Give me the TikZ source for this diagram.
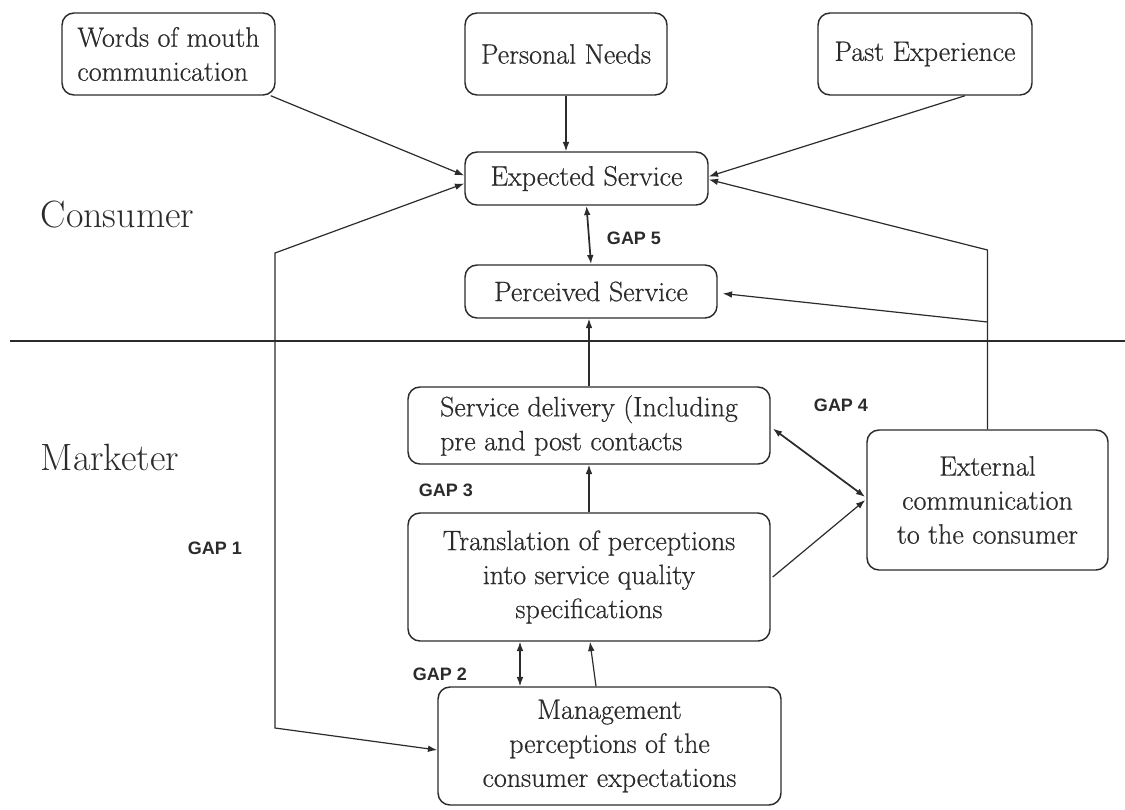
\documentclass[tikz,border=0pt]{standalone}
\usepackage{fontspec}
\newfontfamily\gapfont{Liberation Sans}
\newfontfamily\boxfont{Latin Modern Roman}[FakeBold=0.6]
\usetikzlibrary{arrows.meta,calc}
\definecolor{ink}{HTML}{2B2B2B}
\begin{document}
\begin{tikzpicture}[x=0.75pt,y=-0.75pt,
  box/.style={draw=ink,line width=1.1pt,rounded corners=9pt,text=ink,
    inner sep=0pt,font=\boxfont\fontsize{21}{25.5}\selectfont},
  conn/.style={draw=ink,line width=0.9pt,-{Latex[length=7pt,width=5pt]}},
  both/.style={draw=ink,line width=0.9pt,{Latex[length=7pt,width=5pt]}-{Latex[length=7pt,width=5pt]}},
  gap/.style={font=\gapfont\bfseries\fontsize{13.5}{16}\selectfont,text=ink},
  side/.style={font=\fontsize{28.5}{32}\selectfont,text=ink,anchor=west}]
\useasboundingbox (0,0) rectangle (1125,810);

% consumer side
\node[box,minimum width=213*0.75pt,minimum height=82*0.75pt,align=left] (words) at (168.5,54) {Words of mouth\\communication};
\node[box,minimum width=202*0.75pt,minimum height=82*0.75pt] (needs) at (566,54) {Personal Needs};
\node[box,minimum width=214*0.75pt,minimum height=82*0.75pt] (past) at (925,54) {Past Experience};
\node[box,minimum width=243*0.75pt,minimum height=53*0.75pt] (exp) at (586.5,178.5) {Expected Service};
\node[box,minimum width=252*0.75pt,minimum height=53*0.75pt] (perc) at (591,291.5) {Perceived Service};

% marketer side
\node[box,minimum width=362*0.75pt,minimum height=77*0.75pt,align=left] (serv) at (589,425.5) {Service delivery (Including\\pre and post contacts};
\node[box,minimum width=362*0.75pt,minimum height=128*0.75pt,align=center] (trans) at (589,577) {Translation of perceptions\\into service quality\\specifications};
\node[box,minimum width=343*0.75pt,minimum height=118*0.75pt,align=center] (mgmt) at (609.5,746) {Management\\perceptions of the\\consumer expectations};
\node[box,minimum width=241*0.75pt,minimum height=140*0.75pt,align=center] (ext) at (987.5,500) {External\\communication\\to the consumer};

% side labels and divider
\node[side] (consumer) at (36,215) {Consumer};
\node[side] (marketer) at (36,457) {Marketer};
\draw[ink,line width=0.9pt] (10,341) -- (1125,341);

% gap labels
\node[gap] (g5) at (634,238) {GAP 5};
\node[gap] (g4) at (841,405) {GAP 4};
\node[gap] (g3) at (446,490) {GAP 3};
\node[gap] (g2) at (440,674) {GAP 2};
\node[gap] (g1) at (215,548) {GAP 1};

% helper points
\coordinate (g1top) at (275,253);
\coordinate (g1bot) at (275,728);
\coordinate (extTop) at (ext.north |- 0,250);
\coordinate (extMid) at (ext.north |- 0,322);

% influences on expected service
\draw[conn] ($(words.south east)+(-5,0)$) -- ($(exp.west)+(0,-3)$);
\draw[conn] (needs.south) -- (needs.south |- exp.north);
\draw[conn] ($(past.south)+(40,0)$) -- ($(exp.east)+(0,-2)$);
\draw[conn] (ext.north) -- (extTop) -- ($(exp.east)+(0,1)$);
\draw[conn] (extMid) -- ($(perc.east)+(5,2)$);

% gaps
\draw[both,line width=1.3pt] (exp.south) -- (perc.north);
\draw[both] ($(exp.west)+(0,5)$) -- (g1top) -- (g1bot) -- ($(mgmt.west)+(0,4)$);
\draw[both,line width=1.3pt] ($(serv.east)+(2,3)$) -- ($(ext.west)+(-1,-3)$);
\draw[conn] ($(trans.east)+(2,0)$) -- ($(ext.west)+(-1,0)$);
\draw[both] ($(trans.south)+(-69,0)$) -- ($(mgmt.north)+(-89.5,0)$);
\draw[conn] ($(mgmt.north)+(-13.5,0)$) -- ($(trans.south)+(1,0)$);

% delivery chain
\draw[conn] (trans.north) -- (serv.south);
\draw[conn] (serv.north) -- (serv.north |- perc.south);
\end{tikzpicture}
\end{document}
